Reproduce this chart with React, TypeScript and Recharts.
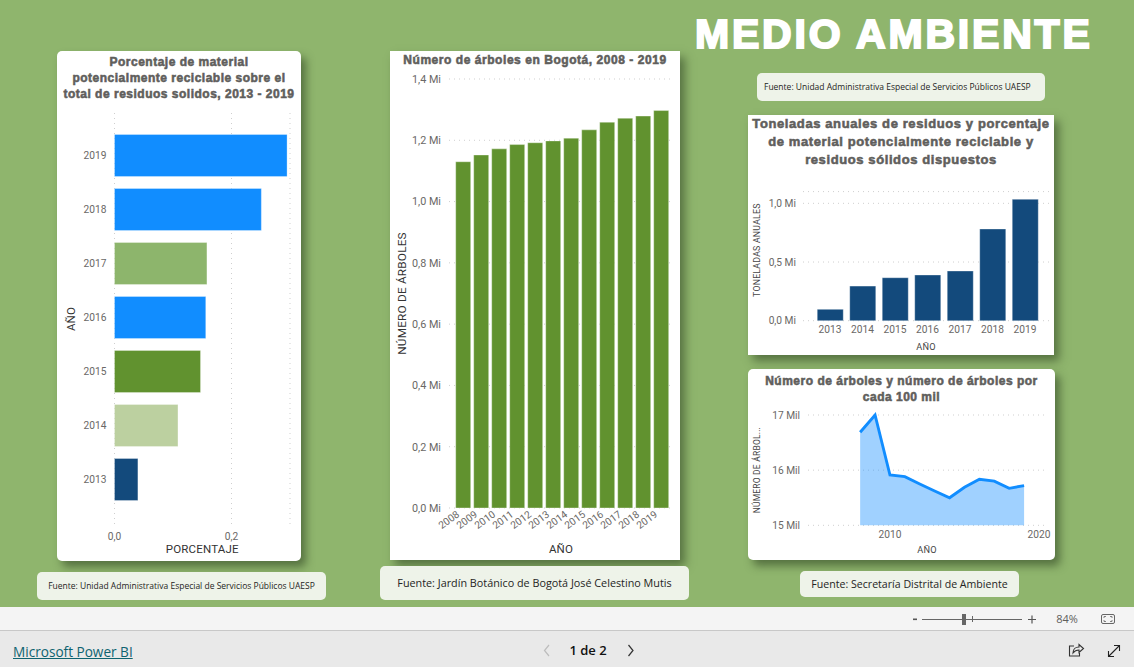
import React from 'react';
import { BarChart, Bar, Cell, XAxis, YAxis, CartesianGrid, AreaChart, Area } from 'recharts';

const pctYears = ['2019', '2018', '2017', '2016', '2015', '2014', '2013'];
const pctValues = [0.295, 0.251, 0.158, 0.156, 0.147, 0.1085, 0.04];
const pctColors = ['#118DFF', '#118DFF', '#8DB56C', '#118DFF', '#61922F', '#BCD0A0', '#134A7C'];

const treeYears = ['2008', '2009', '2010', '2011', '2012', '2013', '2014', '2015', '2016', '2017', '2018', '2019'];
const treeValues = [1130000, 1152000, 1172000, 1186000, 1192000, 1198000, 1207000, 1234000, 1259000, 1272000, 1279000, 1297000];

const wasteYears = ['2013', '2014', '2015', '2016', '2017', '2018', '2019'];
const wasteValues = [97000, 295000, 366000, 389000, 423000, 781000, 1034000];

const densityYears = [2008, 2009, 2010, 2011, 2012, 2013, 2014, 2015, 2016, 2017, 2018, 2019];
const densityValues = [16686, 17000, 15912, 15882, 15750, 15622, 15500, 15690, 15834, 15800, 15670, 15720];

const pctData = pctYears.map((y, i) => ({ y, v: pctValues[i] }));
const treeData = treeYears.map((y, i) => ({ y, v: treeValues[i] }));
const wasteData = wasteYears.map((y, i) => ({ y, v: wasteValues[i] }));
const densityData = densityYears.map((y, i) => ({ y, v: densityValues[i] }));

const AXIS = 'Roboto, sans-serif';
const UI = '"Open Sans", sans-serif';
const TITLE = '"Liberation Sans", Arial, sans-serif';
const GREY = '#605E5C';
const GRID = '#CFCFCF';
const mi = (v: number) => (v / 1e6).toFixed(1).replace('.', ',') + ' Mi';
const mil = (v: number) => v / 1000 + ' Mil';
const comma = (v: number) => v.toFixed(1).replace('.', ',');

const tickStyle = { fill: '#6A6866', fontSize: 10.2, fontFamily: AXIS };
const labelStyle = { fill: '#333', fontFamily: AXIS, letterSpacing: 0.2 };

const Card = ({ x, y, w, h, r = 5, children }: any) => (
  <div style={{ position: 'absolute', left: x, top: y, width: w, height: h, background: '#fff', borderRadius: r, boxShadow: '5px 6px 9px rgba(40,60,30,0.55)' }}>{children}</div>
);

const Title = ({ top, lines, size, lh, ls = 0.3 }: any) => (
  <div style={{ position: 'absolute', left: 0, right: 0, top, textAlign: 'center', fontFamily: TITLE, fontWeight: 700, fontSize: size, lineHeight: lh + 'px', letterSpacing: ls, color: GREY, WebkitTextStroke: '0.55px ' + GREY, whiteSpace: 'nowrap' }}>
    {lines.map((l: string) => <div key={l}>{l}</div>)}
  </div>
);

const Source = ({ x, y, w, h, size, text, left }: any) => (
  <div style={{ position: 'absolute', left: x, top: y, width: w, height: h, background: '#EEF3E9', borderRadius: 5, fontFamily: UI, fontSize: size, lineHeight: h + 'px', color: '#252423', textAlign: left ? 'left' : 'center', paddingLeft: left || 0, boxSizing: 'border-box', whiteSpace: 'nowrap' }}>{text}</div>
);

export default function App() {
  return (
    <div style={{ position: 'fixed', left: 0, top: 0, width: 1134, height: 667, background: '#E9E9E9', overflow: 'hidden' }}>
      <div style={{ position: 'absolute', left: 0, top: 0, width: 1134, height: 607, background: '#8FB56D' }} />
      <div style={{ position: 'absolute', left: 0, top: 607, width: 1134, height: 23, background: '#F4F4F4', borderBottom: '1px solid #C8C8C8' }} />

      <div style={{ position: 'absolute', left: 695, top: 8, width: 397, textAlign: 'center', fontFamily: TITLE, fontWeight: 700, fontSize: 41, lineHeight: '52px', letterSpacing: 2.8, color: '#fff', WebkitTextStroke: '2px #fff', whiteSpace: 'nowrap' }}>MEDIO AMBIENTE</div>

      <Card x={57} y={51} w={244} h={510}>
        <Title top={3} size={12} lh={16} ls={0.5} lines={['Porcentaje de material', 'potencialmente reciclable sobre el', 'total de residuos solidos, 2013 - 2019']} />
        <div style={{ position: 'absolute', left: 0, top: 0 }}>
          <BarChart width={244} height={510} data={pctData} layout="vertical" margin={{ top: 62, right: 11, bottom: 0, left: 0 }}>
            <CartesianGrid horizontal={false} stroke={GRID} strokeDasharray="1 4" />
            <XAxis type="number" dataKey="v" domain={[0, 0.3]} ticks={[0, 0.2]} tickFormatter={comma} axisLine={false} tickLine={false} tickSize={0} tickMargin={8} height={36} tick={tickStyle} label={{ value: 'PORCENTAJE', position: 'insideBottom', offset: 8, style: { ...labelStyle, fontSize: 11.5 } }} />
            <YAxis type="category" dataKey="y" width={57.5} axisLine={false} tickLine={false} tickSize={0} tickMargin={8} padding={{ top: 15.5, bottom: 18.5 }} tick={tickStyle} label={{ value: 'AÑO', angle: -90, position: 'insideLeft', offset: 14, style: { ...labelStyle, fontSize: 11.5, textAnchor: 'middle' } }} />
            <Bar dataKey="v" barSize={42} isAnimationActive={false} stroke="rgba(255,255,255,0.3)">
              {pctData.map((d, i) => <Cell key={d.y} fill={pctColors[i]} />)}
            </Bar>
          </BarChart>
        </div>
      </Card>

      <Card x={390} y={51} w={290} h={509} r={0}>
        <Title top={1} size={12} lh={16} ls={0.55} lines={['Número de árboles en Bogotá, 2008 - 2019']} />
        <div style={{ position: 'absolute', left: 0, top: 0 }}>
          <BarChart width={290} height={509} data={treeData} margin={{ top: 28, right: 7, bottom: 0, left: 0 }} barCategoryGap={1.7}>
            <CartesianGrid vertical={false} stroke={GRID} strokeDasharray="1 4" />
            <XAxis dataKey="y" interval={0} padding={{ left: 5, right: 3 }} axisLine={false} tickLine={false} tickSize={0} tickMargin={2} height={52} angle={-36} textAnchor="end" tick={{ ...tickStyle, dx: -7 }} label={{ value: 'AÑO', position: 'insideBottom', offset: 7, style: { ...labelStyle, fontSize: 11.5 } }} />
            <YAxis domain={[0, 1400000]} ticks={[0, 200000, 400000, 600000, 800000, 1000000, 1200000, 1400000]} tickFormatter={mi} width={59} axisLine={false} tickLine={false} tickSize={0} tickMargin={8} tick={{ ...tickStyle, fontSize: 10.8 }} label={{ value: 'NÚMERO DE ÁRBOLES', angle: -90, position: 'insideLeft', offset: 12, style: { ...labelStyle, fontSize: 11.8, textAnchor: 'middle' } }} />
            <Bar dataKey="v" fill="#61922F" stroke="rgba(255,255,255,0.35)" isAnimationActive={false} />
          </BarChart>
        </div>
      </Card>

      <Card x={748} y={115} w={306} h={240} r={0}>
        <Title top={0} size={13} lh={18} ls={0.6} lines={['Toneladas anuales de residuos y porcentaje', 'de material potencialmente reciclable y', 'residuos sólidos dispuestos']} />
        <div style={{ position: 'absolute', left: 0, top: 0 }}>
          <BarChart width={306} height={240} data={wasteData} margin={{ top: 76.6, right: 5, bottom: 0, left: 0 }} barCategoryGap={3.5}>
            <CartesianGrid vertical={false} stroke={GRID} strokeDasharray="1 4" />
            <XAxis dataKey="y" interval={0} padding={{ left: 10.75, right: 7.75 }} axisLine={false} tickLine={false} tickSize={0} tickMargin={5} height={34.3} tick={tickStyle} label={{ value: 'AÑO', position: 'insideBottom', offset: 5, style: { ...labelStyle, fill: '#444', fontSize: 9.2 } }} />
            <YAxis domain={[0, 1100000]} ticks={[0, 500000, 1000000]} tickFormatter={mi} width={55} axisLine={false} tickLine={false} tickSize={0} tickMargin={7} tick={tickStyle} label={{ value: 'TONELADAS ANUALES', angle: -90, position: 'insideLeft', offset: 9, dy: -6, style: { ...labelStyle, fill: '#444', fontSize: 8.8, textAnchor: 'middle' } }} />
            <Bar dataKey="v" fill="#134A7C" stroke="rgba(255,255,255,0.3)" isAnimationActive={false} />
          </BarChart>
        </div>
      </Card>

      <Card x={748} y={369} w={307} h={191}>
        <Title top={4} size={12} lh={16} ls={0.5} lines={['Número de árboles y número de árboles por', 'cada 100 mil']} />
        <div style={{ position: 'absolute', left: 0, top: 0 }}>
          <AreaChart width={307} height={191} data={densityData} margin={{ top: 46, right: 9, bottom: 0, left: 0 }}>
            <CartesianGrid vertical={false} stroke={GRID} strokeDasharray="1 4" />
            <XAxis type="number" dataKey="y" domain={[2004.5, 2020.47]} ticks={[2010, 2020]} allowDataOverflow axisLine={false} tickLine={false} tickSize={0} tickMargin={5} height={34.7} tick={tickStyle} label={{ value: 'AÑO', position: 'insideBottom', offset: 7, style: { ...labelStyle, fill: '#444', fontSize: 9.2 } }} />
            <YAxis domain={[15000, 17000]} ticks={[15000, 16000, 17000]} tickFormatter={mil} width={60} axisLine={false} tickLine={false} tickSize={0} tickMargin={8} tick={tickStyle} label={{ value: 'NÚMERO DE ÁRBOL...', angle: -90, position: 'insideLeft', offset: 9, style: { ...labelStyle, fill: '#444', fontSize: 8.5, textAnchor: 'middle' } }} />
            <Area dataKey="v" type="linear" stroke="#118DFF" strokeWidth={2.9} fill="#118DFF" fillOpacity={0.4} isAnimationActive={false} dot={false} activeDot={false} />
          </AreaChart>
        </div>
      </Card>

      <Source x={37} y={572} w={289} h={28} size={8.5} text="Fuente: Unidad Administrativa Especial de Servicios Públicos UAESP" />
      <Source x={380} y={566} w={309} h={34} size={10.8} text="Fuente: Jardín Botánico de Bogotá José Celestino Mutis" />
      <Source x={757} y={73} w={288} h={28} size={8.5} left={7} text="Fuente: Unidad Administrativa Especial de Servicios Públicos UAESP" />
      <Source x={800} y={571} w={219} h={26} size={10.6} text="Fuente: Secretaría Distrital de Ambiente" />

      <a style={{ position: 'absolute', left: 13, top: 642, fontFamily: UI, fontSize: 13.6, lineHeight: '20px', color: '#0E6370', textDecoration: 'underline', whiteSpace: 'nowrap' }}>Microsoft Power BI</a>
      <div style={{ position: 'absolute', left: 560, top: 640, width: 56, textAlign: 'center', fontFamily: UI, fontWeight: 600, fontSize: 13, lineHeight: '20px', color: '#111', whiteSpace: 'nowrap' }}>1 de 2</div>
      <div style={{ position: 'absolute', left: 1047, top: 610, width: 40, textAlign: 'center', fontFamily: UI, fontSize: 11, lineHeight: '18px', color: GREY }}>84%</div>

      <svg width={1134} height={667} style={{ position: 'absolute', left: 0, top: 0, pointerEvents: 'none' }}>
        <path d="M549 645 l-4.5 5.5 l4.5 5.5" fill="none" stroke="#BDBDBD" strokeWidth={1.2} />
        <path d="M628.5 645 l4.5 5.5 l-4.5 5.5" fill="none" stroke="#333" strokeWidth={1.2} />
        <rect x={913} y={618.5} width={4} height={1.6} fill="#555" />
        <rect x={922} y={619} width={100} height={1} fill="#666" />
        <rect x={962} y={614} width={4} height={11} fill="#666" />
        <rect x={972} y={616} width={1} height={6} fill="#666" />
        <path d="M1028 619.5 h8 M1032 615.5 v8" stroke="#555" strokeWidth={1.2} />
        <rect x={1101.5} y={614.5} width={13} height={9} rx={1.5} fill="none" stroke="#666" />
        <path d="M1104 618 v-1.5 h2 M1112 618 v-1.5 h-2 M1104 620 v1.5 h2 M1112 620 v1.5 h-2" fill="none" stroke="#666" strokeWidth={0.8} />
        <path d="M1074 646 h-4.5 v10 h10 v-3" fill="none" stroke="#333" strokeWidth={1.1} />
        <path d="M1073 653 c0 -4 3 -6 6 -6 v-2.5 l4.5 4 l-4.5 4 v-2.5 c-2.5 0 -4.5 1 -6 3z" fill="none" stroke="#333" strokeWidth={1.1} />
        <path d="M1108.5 656.5 L1119.5 645.5 M1114 645.5 h5.5 v5.5 M1108.5 651 v5.5 h5.5" fill="none" stroke="#222" strokeWidth={1.1} />
      </svg>
    </div>
  );
}
